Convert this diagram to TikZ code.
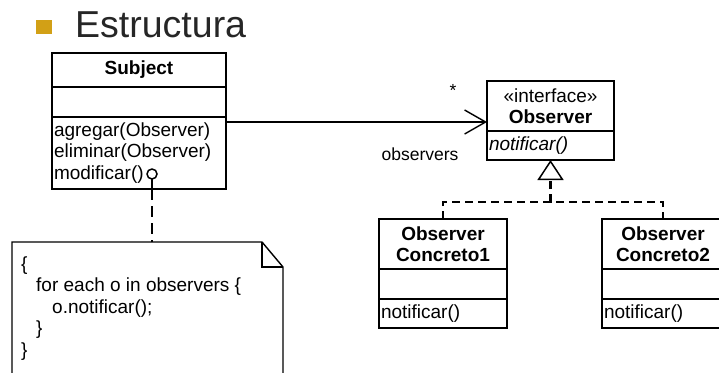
\documentclass[tikz,border=0pt]{standalone}
\usepackage{fontspec}
\setmainfont{Liberation Sans}
\usepackage{tikz}
\usetikzlibrary{arrows.meta,positioning}
\definecolor{bulletgold}{RGB}{210,160,22}
\newcommand\umlfont{\fontsize{19}{21.5}\selectfont}
\tikzset{
  comp/.style={draw,line width=1.5pt,inner sep=0pt,outer sep=0pt,font=\umlfont,anchor=north},
  hdr/.style={comp,minimum width=#1,minimum height=34pt,align=center},
  attr/.style={comp,minimum width=#1,minimum height=30pt},
  ops/.style={comp,text width=#1,inner xsep=2pt,minimum height=30pt,align=left},
  lbl/.style={inner sep=0pt,font=\fontsize{17.5}{19}\selectfont},
  assoc/.style={line width=1.4pt,-{Straight Barb[length=21pt,width=24pt,line width=1.4pt]}},
  real/.style={line width=2.2pt,dash pattern=on 8pt off 5pt},
  notelink/.style={line width=2.6pt,dash pattern=on 11pt off 6pt},
  notebox/.style={line width=1.4pt,line join=miter},
  notetxt/.style={inner sep=0pt,align=left,font=\umlfont},
}

\begin{document}
\begin{tikzpicture}[x=1pt,y=-1pt]
 \path[use as bounding box,clip] (0,0) rectangle (719,372);
 % title
 \node[inner sep=0pt,anchor=base west,font=\fontsize{37.5}{40}\selectfont,text=black!85] (ttl) at (75,37) {Estructura};
 \node[fill=bulletgold,minimum width=16pt,minimum height=14pt,inner sep=0pt,left=23pt of ttl,yshift=-2.5pt] (blt) {};
 % Subject
 \node[hdr=174pt,anchor=north west] (subj) at (52,53) {\textbf{Subject}};
 \node[attr=174pt,below=0pt of subj] (subjattr) {};
 \node[ops=170pt,minimum height=72pt,below=0pt of subjattr] (subjops) {agregar(Observer)\\eliminar(Observer)\\modificar()};
 % Observer interface
 \node[hdr=127pt,minimum height=50pt,anchor=north west] (obshdr) at (487,81) {«interface»\\\textbf{Observer}};
 \node[ops=123pt,minimum height=29pt,below=0pt of obshdr,font=\umlfont\itshape] (obsops) {notificar()};
 % concrete observers
 \node[hdr=128pt,minimum height=50pt,font=\umlfont\bfseries,anchor=north west] (conc1hdr) at (379,219) {Observer\\Concreto1};
 \node[attr=128pt,below=0pt of conc1hdr] (conc1attr) {};
 \node[ops=124pt,minimum height=29pt,below=0pt of conc1attr] (conc1ops) {notificar()};
 \node[hdr=122pt,minimum height=50pt,font=\umlfont\bfseries,anchor=north west] (conc2hdr) at (602,219) {Observer\\Concreto2};
 \node[attr=122pt,below=0pt of conc2hdr] (conc2attr) {};
 \node[ops=118pt,minimum height=29pt,below=0pt of conc2attr] (conc2ops) {notificar()};
 % association
 \coordinate (assocstart) at ([yshift=-5pt]subjops.north east);
 \draw[assoc] (assocstart) -- (assocstart -| obshdr.west);
 \node[lbl] (mult) at (453,90) {*};
 \node[lbl] (role) at (420,154.5) {observers};
 % realization
 \coordinate (junc) at ([yshift=-42pt]obsops.south);
 \draw[real] (conc1hdr.north) |- (junc) -| (conc2hdr.north);
 \draw[real,-{Triangle[open,length=20pt,width=26pt,line width=1.5pt]}] (junc) -- (obsops.south);
 % note
 \node[minimum width=271pt,minimum height=150pt,inner sep=0pt,outer sep=0pt,anchor=north west] (note) at (12,242) {};
 \draw[notebox] (note.south west) -- (note.north west) -- ([xshift=-21pt]note.north east) -- ([yshift=-25pt]note.north east) -- (note.south east);
 \draw[notebox] ([xshift=-21pt]note.north east) |- ([yshift=-25pt]note.north east);
 \node[notetxt,anchor=north west] (code) at ([xshift=9pt,yshift=-14.5pt]note.north west) {\{\\\hspace*{15pt}for each o in observers \{\\\hspace*{31pt}o.notificar();\\\hspace*{15pt}\}\\\}};
 % lollipop and link to the note
 \node[circle,draw,line width=1.5pt,minimum size=10pt,inner sep=0pt,outer sep=0pt] (port) at (152,174) {};
 \draw[line width=1.8pt] (port.south) -- (port.south |- subjops.south);
 \draw[notelink] (port.south |- subjops.south) -- (port.south |- note.north);
\end{tikzpicture}
\end{document}
